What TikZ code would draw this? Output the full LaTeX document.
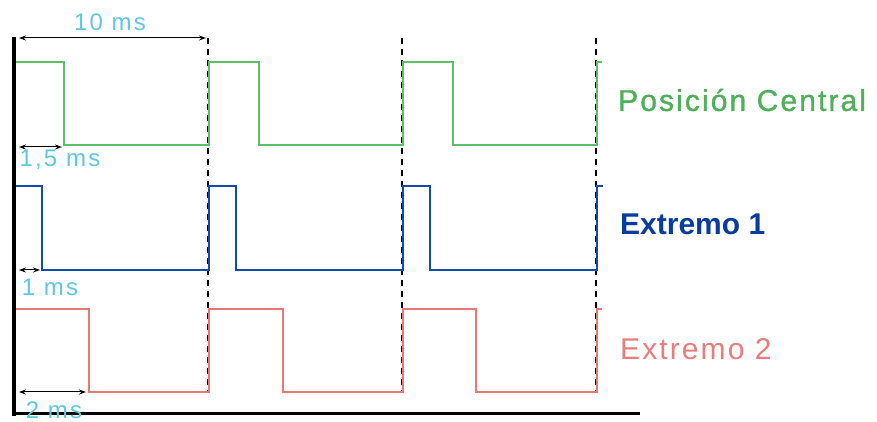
\documentclass[tikz,border=0pt]{standalone}
\usepackage{fontspec}
\setmainfont{Liberation Sans}
\usetikzlibrary{arrows.meta}
\definecolor{sigGreen}{RGB}{95,190,105}
\definecolor{sigBlue}{RGB}{20,75,170}
\definecolor{sigRed}{RGB}{230,120,120}
\definecolor{txtGreen}{RGB}{80,175,90}
\definecolor{txtBlue}{RGB}{10,60,160}
\definecolor{txtRed}{RGB}{232,125,125}
\definecolor{dimCyan}{RGB}{95,200,225}
\begin{document}
\begin{tikzpicture}[x=1pt,y=1pt,
  wave/.style={line width=1.8pt,line join=miter},
  period/.style={black,line width=1.6pt,dash pattern=on 6pt off 5pt},
  dimarrow/.style={black,line width=1pt,{Stealth[length=7pt,width=5pt]}-{Stealth[length=7pt,width=5pt]}},
  dimlabel/.style={text=dimCyan,font=\fontsize{24}{26}\selectfont\addfontfeature{LetterSpace=9},inner sep=0pt},
  siglabel/.style={inner sep=0pt,anchor=west}]
\useasboundingbox (0,0) rectangle (877,422);

% period markers
\foreach \x/\n in {208/pa,402/pb,596/pc}{
  \coordinate (\n top) at (\x,384);
  \coordinate (\n bot) at (\x,30);
  \draw[period] (\n top) -- (\n bot);
}

% servo pulse trains
\draw[wave,sigGreen] (16,360) -- (64,360) -- (64,277) -- (209,277) -- (209,360)
  -- (259,360) -- (259,277) -- (403,277) -- (403,360) -- (453,360) -- (453,277)
  -- (597,277) -- (597,360) -- (602,360);
\draw[wave,sigBlue] (16,236) -- (42,236) -- (42,152) -- (209,152) -- (209,236)
  -- (236,236) -- (236,152) -- (403,152) -- (403,236) -- (430,236) -- (430,152)
  -- (597,152) -- (597,236) -- (603,236);
\draw[wave,sigRed] (16,113) -- (89,113) -- (89,30) -- (209,30) -- (209,113)
  -- (283,113) -- (283,30) -- (403,30) -- (403,113) -- (476,113) -- (476,30)
  -- (597,30) -- (597,113) -- (602,113);

% axes
\draw[black,line width=4pt] (14,385) -- (14,6);
\draw[black,line width=3pt] (12,8) -- (640,8);

% dimension arrows
\coordinate (d10a) at (19,384);  \coordinate (d10b) at (206,384);
\coordinate (d15a) at (19,275);  \coordinate (d15b) at (62,275);
\coordinate (d1a)  at (19,152);  \coordinate (d1b)  at (40,152);
\coordinate (d2a)  at (19,30);   \coordinate (d2b)  at (86,30);
\draw[dimarrow] (d10a) -- (d10b);
\draw[dimarrow] (d15a) -- (d15b);
\draw[dimarrow] (d1a) -- (d1b);
\draw[dimarrow] (d2a) -- (d2b);

\node[dimlabel] (l10) at (110,400) {10 ms};
\node[dimlabel] (l15) at (60,262) {1,5 ms};
\node[dimlabel] (l1)  at (50,135) {1 ms};
\node[dimlabel] (l2)  at (54,12)  {2 ms};

% signal names
\node[siglabel,text=txtGreen,font=\fontsize{30}{32}\selectfont\addfontfeature{FakeBold=1.2,LetterSpace=7}] (nc) at (618,322) {Posición Central};
\node[siglabel,text=txtBlue,font=\fontsize{30}{32}\selectfont\bfseries] (ne1) at (620,198) {Extremo 1};
\node[siglabel,text=txtRed,font=\fontsize{30}{32}\selectfont\addfontfeature{LetterSpace=7}] (ne2) at (620,73) {Extremo 2};
\end{tikzpicture}
\end{document}
